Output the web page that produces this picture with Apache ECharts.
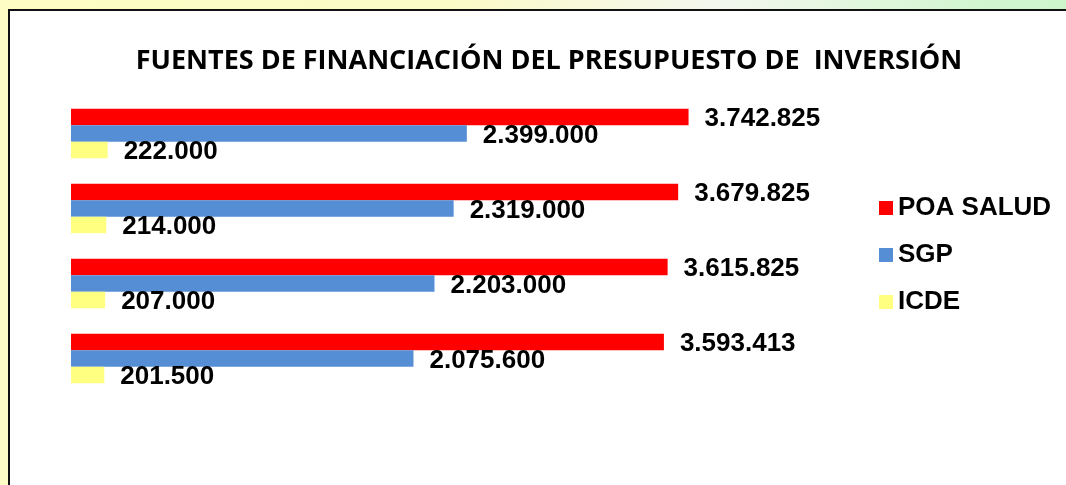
<!DOCTYPE html>
<html>
<head>
<meta charset="utf-8">
<title>Fuentes de financiación del presupuesto de inversión</title>
<script src="https://cdn.jsdelivr.net/npm/echarts@6/dist/echarts.min.js"></script>
<style>
  html, body { margin: 0; padding: 0; width: 1066px; height: 485px; overflow: hidden; }
  body {
    background: linear-gradient(100deg, #fdfdc4 0%, #fbfbc8 40%, #f4f7ee 62%, #d2f6d0 85%, #c8f4c8 100%);
    position: relative;
  }
  #frame {
    position: absolute; left: 8px; top: 9px; width: 1100px; height: 520px;
    background: #ffffff; border: 2px solid #111111; box-sizing: border-box;
  }
  #chart { position: absolute; left: 0; top: 0; width: 1066px; height: 485px; }
</style>
</head>
<body>
<div id="frame"></div>
<div id="chart"></div>
<script>
// Budget funding sources, one group per year (top to bottom)
const categories = ['2019', '2018', '2017', '2016'];
const poaSalud = [3742825, 3679825, 3615825, 3593413];
const sgp      = [2399000, 2319000, 2203000, 2075600];
const icde     = [222000, 214000, 207000, 201500];
const seriesNames = ['POA SALUD', 'SGP', 'ICDE'];
const seriesColors = ['#ff0000', '#558ed5', '#ffff80'];

// Thousands separator with dots, e.g. 3.742.825
function fmt(v) {
  return String(Math.round(v)).replace(/\B(?=(\d{3})+(?!\d))/g, '.');
}

const labelStyle = {
  show: true,
  position: 'right',
  distance: 16,
  offset: [0, 2],
  fontFamily: '"Liberation Sans", Arial, sans-serif',
  fontWeight: 'bold',
  fontSize: 26,
  color: '#000000',
  formatter: p => fmt(p.value)
};

const chart = echarts.init(document.getElementById('chart'), null, { renderer: 'canvas' });

chart.setOption({
  animation: false,
  backgroundColor: 'transparent',
  graphic: [{
    type: 'text',
    x: 549,
    y: 61,
    style: {
      text: 'FUENTES DE FINANCIACIÓN DEL PRESUPUESTO DE  INVERSIÓN',
      fontFamily: '"Open Sans", Lato, sans-serif',
      fontWeight: 'bold',
      fontSize: 27,
      fill: '#000000',
      textAlign: 'center',
      textVerticalAlign: 'middle'
    }
  }],
  legend: {
    orient: 'vertical',
    left: 874,
    top: 190,
    itemWidth: 14,
    itemHeight: 14,
    itemGap: 21,
    icon: 'rect',
    textStyle: {
      fontFamily: '"Liberation Sans", Arial, sans-serif',
      fontWeight: 'bold',
      fontSize: 26,
      lineHeight: 25,
      color: '#000000',
      padding: [0, 0, 0, 0]
    },
    data: seriesNames
  },
  grid: { left: 71, top: 96, width: 660, height: 300, containLabel: false },
  xAxis: {
    type: 'value',
    min: 0,
    max: 4000000,
    show: false
  },
  yAxis: {
    type: 'category',
    data: categories,
    inverse: true,
    show: false
  },
  series: [
    { name: seriesNames[0], type: 'bar', data: poaSalud, barGap: '0%', barCategoryGap: '34%',
      itemStyle: { color: seriesColors[0] }, label: labelStyle },
    { name: seriesNames[1], type: 'bar', data: sgp, barGap: '0%', barCategoryGap: '34%',
      itemStyle: { color: seriesColors[1] }, label: labelStyle },
    { name: seriesNames[2], type: 'bar', data: icde, barGap: '0%', barCategoryGap: '34%',
      itemStyle: { color: seriesColors[2] }, label: labelStyle }
  ]
});
</script>
</body>
</html>
